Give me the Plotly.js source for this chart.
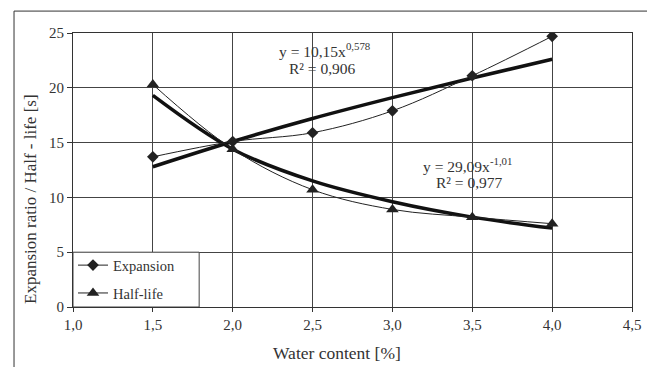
<!DOCTYPE html>
<html>
<head>
<meta charset="utf-8">
<script src="https://cdn.plot.ly/plotly-3.0.1.min.js"></script>
<style>html,body{margin:0;padding:0;background:#fff;}#chart{width:647px;height:367px;}</style>
</head>
<body>
<div id="chart"></div>
<script>
// Data
const waterContent = [1.5, 2.0, 2.5, 3.0, 3.5, 4.0];
const expansion = [13.7, 15.1, 15.9, 17.9, 21.1, 24.7];
const halfLife = [20.3, 14.4, 10.7, 8.9, 8.2, 7.6];
const expansionTrend = [12.8, 15.1, 17.2, 19.1, 20.9, 22.6];
const halfLifeTrend = [19.3, 14.4, 11.5, 9.6, 8.2, 7.2];
const xTicks = [1.0, 1.5, 2.0, 2.5, 3.0, 3.5, 4.0, 4.5];
const yTicks = [0, 5, 10, 15, 20, 25];

const ink = '#222';
const txt = '#333';
const serif = 'Times New Roman, Liberation Serif, DejaVu Serif, serif';

const traces = [
  {x: waterContent, y: expansionTrend, mode: 'lines', line: {color: '#111', width: 3.5, shape: 'spline'}, showlegend: false, hoverinfo: 'skip'},
  {x: waterContent, y: halfLifeTrend, mode: 'lines', line: {color: '#111', width: 3.5, shape: 'spline'}, showlegend: false, hoverinfo: 'skip'},
  {x: waterContent, y: expansion, name: 'Expansion', legendgroup: 'a', mode: 'lines+markers',
   line: {color: ink, width: 1, shape: 'spline'}, marker: {symbol: 'diamond', size: 9, color: ink}},
  {x: waterContent, y: halfLife, name: 'Half-life', legendgroup: 'b', mode: 'lines+markers',
   line: {color: ink, width: 1, shape: 'spline'}, marker: {symbol: 'triangle-up', size: 11, color: ink}}
];

const layout = {
  width: 647, height: 367,
  margin: {l: 73, r: 15, t: 33, b: 60},
  paper_bgcolor: '#fff', plot_bgcolor: '#fff',
  separators: ',.',
  font: {family: serif, color: txt, size: 14},
  showlegend: true,
  legend: {x: 0, y: -0.008, xanchor: 'left', yanchor: 'bottom', bgcolor: 'rgba(0,0,0,0)', borderwidth: 0,
           font: {family: serif, size: 14.5, color: txt}, tracegroupgap: 6, traceorder: 'grouped'},
  xaxis: {range: [1.0, 4.5], tickvals: xTicks, tickformat: '.1f', showgrid: true, gridcolor: '#444', gridwidth: 1,
          showline: true, linecolor: '#333', linewidth: 1, mirror: true, ticks: 'outside', ticklen: 4, tickcolor: '#333',
          zeroline: false, tickfont: {family: serif, size: 15, color: txt}},
  yaxis: {range: [0, 25], tickvals: yTicks, showgrid: true, gridcolor: '#444', gridwidth: 1,
          showline: true, linecolor: '#333', linewidth: 1, mirror: true, ticks: 'outside', ticklen: 5, tickcolor: '#333',
          zeroline: false, tickfont: {family: serif, size: 15, color: txt}},
  shapes: [
    {type: 'rect', xref: 'x', yref: 'y', x0: 1.0, x1: 1.79, y0: 0, y1: 5, fillcolor: '#fff', line: {color: '#444', width: 1}, layer: 'above'},
    {type: 'path', xref: 'paper', yref: 'paper', path: 'M -0.1055,-0.22 L -0.1055,1.080 L 1.03,1.080', line: {color: '#333', width: 1}}
  ],
  annotations: [
    {text: 'Expansion ratio / Half - life [s]', xref: 'paper', yref: 'paper', x: -0.077, y: 0.394, textangle: -90,
     showarrow: false, xanchor: 'center', yanchor: 'middle', font: {family: serif, size: 17, color: txt}},
    {text: 'Water content [%]', xref: 'paper', yref: 'paper', x: 0.472, y: -0.168,
     showarrow: false, xanchor: 'center', yanchor: 'middle', font: {family: serif, size: 17.5, color: txt}},
    {text: 'y = 10,15x<sup>0,578</sup>', xref: 'x', yref: 'y', x: 2.58, y: 23.45, showarrow: false, font: {family: serif, size: 15.5, color: txt}},
    {text: 'R² = 0,906', xref: 'x', yref: 'y', x: 2.56, y: 21.8, showarrow: false, font: {family: serif, size: 15.5, color: txt}},
    {text: 'y = 29,09x<sup>-1,01</sup>', xref: 'x', yref: 'y', x: 3.47, y: 12.96, showarrow: false, font: {family: serif, size: 15.5, color: txt}},
    {text: 'R² = 0,977', xref: 'x', yref: 'y', x: 3.48, y: 11.4, showarrow: false, font: {family: serif, size: 15.5, color: txt}}
  ]
};

Plotly.newPlot('chart', traces, layout, {staticPlot: true, displayModeBar: false});
</script>
</body>
</html>
